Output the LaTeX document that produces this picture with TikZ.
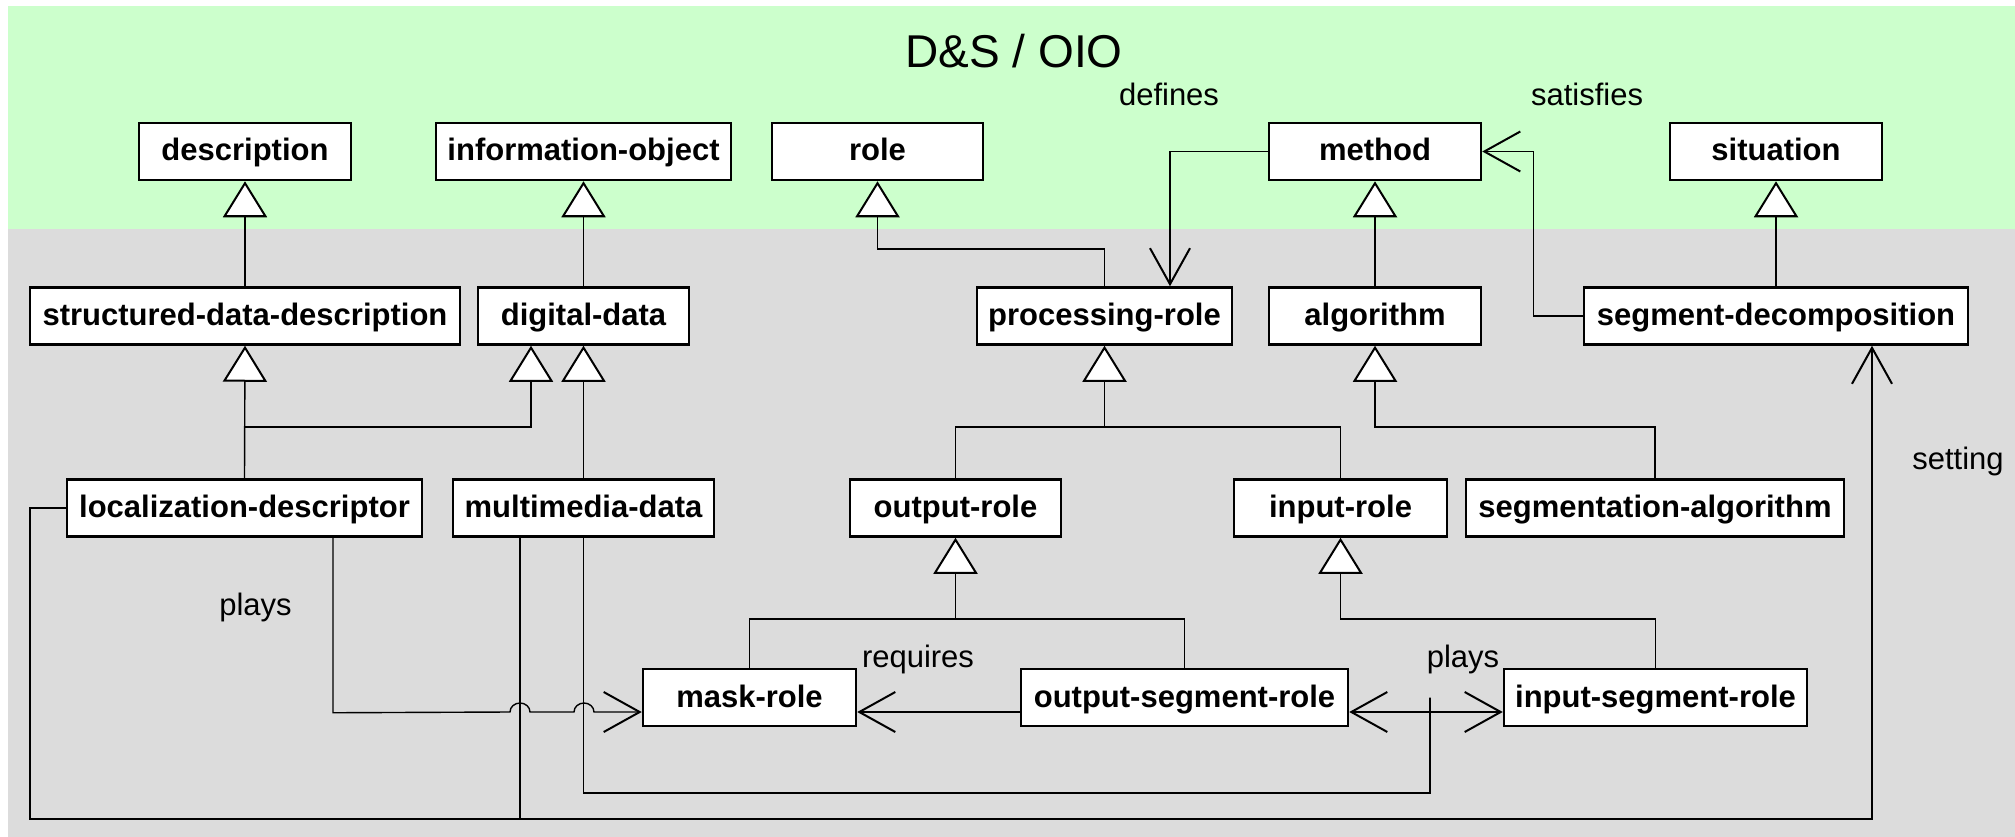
\documentclass[tikz,border=0pt]{standalone}
\usepackage{fontspec}
\setmainfont{Liberation Sans}
\usetikzlibrary{arrows.meta,calc}
\definecolor{bggreen}{HTML}{CCFFCC}
\definecolor{bggray}{HTML}{DCDCDC}
\begin{document}
\begin{tikzpicture}[x=1pt,y=-1pt,
  box/.style={draw, line width=2.5pt, fill=white, minimum height=57pt, inner sep=0pt,
    text height=22pt, text depth=3pt,
    font=\bfseries\fontsize{31}{36}\selectfont},
  lbl/.style={inner sep=0pt, anchor=base, font=\fontsize{31}{36}\selectfont},
  conn/.style={line width=1.4pt},
  gen/.style={conn, -{Triangle[length=36pt,width=44pt,fill=white,line width=2pt]}},
  assoc/.style={conn, -{Straight Barb[length=36pt,width=40pt,line width=2pt]}},
  bothassoc/.style={conn, {Straight Barb[length=36pt,width=40pt,line width=2pt]}-{Straight Barb[length=36pt,width=40pt,line width=2pt]}}
]
\useasboundingbox (0,0) rectangle (2015,837);
\fill[bggreen] (8,6) rectangle (2015,229);
\fill[bggray] (8,229) rectangle (2015,837);

\node[lbl, font=\fontsize{46}{52}\selectfont] (title) at (1014,68) {D\&S / OIO};

% row 1
\node[box, minimum width=212pt] (desc) at (245,151.5) {description};
\node[box, minimum width=295pt] (io) at (583.5,151.5) {information-object};
\node[box, minimum width=211pt] (role) at (877.5,151.5) {role};
\node[box, minimum width=212pt] (method) at (1375,151.5) {method};
\node[box, minimum width=212pt] (sit) at (1776,151.5) {situation};
% row 2
\node[box, minimum width=430pt] (sdd) at (245,316) {structured-data-description};
\node[box, minimum width=211pt] (dd) at (583.5,316) {digital-data};
\node[box, minimum width=255pt] (pr) at (1104.5,316) {processing-role};
\node[box, minimum width=212pt] (alg) at (1375,316) {algorithm};
\node[box, minimum width=384pt] (sd) at (1776,316) {segment-decomposition};
% row 3
\node[box, minimum width=355pt] (ld) at (244.5,508) {localization-descriptor};
\node[box, minimum width=261pt] (mm) at (583.5,508) {multimedia-data};
\node[box, minimum width=211pt] (outr) at (955.5,508) {output-role};
\node[box, minimum width=213pt] (inr) at (1340.5,508) {input-role};
\node[box, minimum width=378pt] (sa) at (1655,508) {segmentation-algorithm};
% row 4
\node[box, minimum width=213pt] (mask) at (749.5,697.5) {mask-role};
\node[box, minimum width=327pt] (osr) at (1184.5,697.5) {output-segment-role};
\node[box, minimum width=303pt] (isr) at (1655.5,697.5) {input-segment-role};

% labels
\node[lbl] (ldef) at (1169,106) {defines};
\node[lbl] (lsat) at (1587,106) {satisfies};
\node[lbl] (lplays1) at (255.5,615) {plays};
\node[lbl] (lreq) at (918,667) {requires};
\node[lbl] (lplays2) at (1463,667) {plays};
\node[lbl] (lset) at (1958,469) {setting};

% helper coordinates
\coordinate (r1) at (0,249);
\coordinate (t1) at (0,427);
\coordinate (t2) at (0,619);
\coordinate (setL) at (30,819);
\coordinate (pl2) at (1430,793);

% generalisations, top
\draw[gen] (sdd.north) -- (desc.south);
\draw[gen] (dd.north) -- (io.south);
\draw[gen] (alg.north) -- (method.south);
\draw[gen] (sd.north) -- (sit.south);
\draw[gen] (pr.north) |- (role.south |- r1) -- (role.south);

% sdd / digital-data tree
\draw[gen] (ld.north) -- (sdd.south);
\draw[gen] (ld.north |- t1) -| ([xshift=-52.5pt]dd.south);
\draw[gen] (mm.north) -- (dd.south);

% processing-role tree
\draw[gen] (outr.north) |- (pr.south |- t1) -- (pr.south);
\draw[conn] (inr.north) |- (pr.south |- t1);
% algorithm tree
\draw[gen] (sa.north) |- (alg.south |- t1) -- (alg.south);
% output-role tree
\draw[gen] (mask.north) |- (outr.south |- t2) -- (outr.south);
\draw[conn] (osr.north) |- (outr.south |- t2);
% input-role tree
\draw[gen] (isr.north) |- (inr.south |- t2) -- (inr.south);

% defines
\draw[assoc] (method.west) -| ([xshift=65.5pt]pr.north);
% satisfies
\draw[assoc] (sd.west) -- ++(-49,0) |- (method.east);
% requires
\draw[assoc] ($(osr.west)+(0,14.5)$) -- ($(mask.east)+(0,14.5)$);
% plays (localization-descriptor -> mask-role) with hops
\draw[assoc] ([xshift=88.5pt]ld.south) -- ++(0,175) -- (510,712)
  arc[start angle=180,end angle=360,x radius=10,y radius=9] -- (574,712)
  arc[start angle=180,end angle=360,x radius=10,y radius=9] -- ($(mask.west)+(0,14.5)$);
% plays (multimedia-data -> output/input-segment-role)
\draw[bothassoc] ($(osr.east)+(0,14.5)$) -- ($(isr.west)+(0,14.5)$);
\draw[conn] (mm.south) |- (pl2) -- (pl2 |- osr.east) -- ++(0,14.5);
% setting
\draw[assoc] (ld.west) -| (setL) -| ([xshift=96pt]sd.south);
\draw[conn] ([xshift=-63.5pt]mm.south) -- ([xshift=-63.5pt]mm.south |- setL);
\end{tikzpicture}
\end{document}
